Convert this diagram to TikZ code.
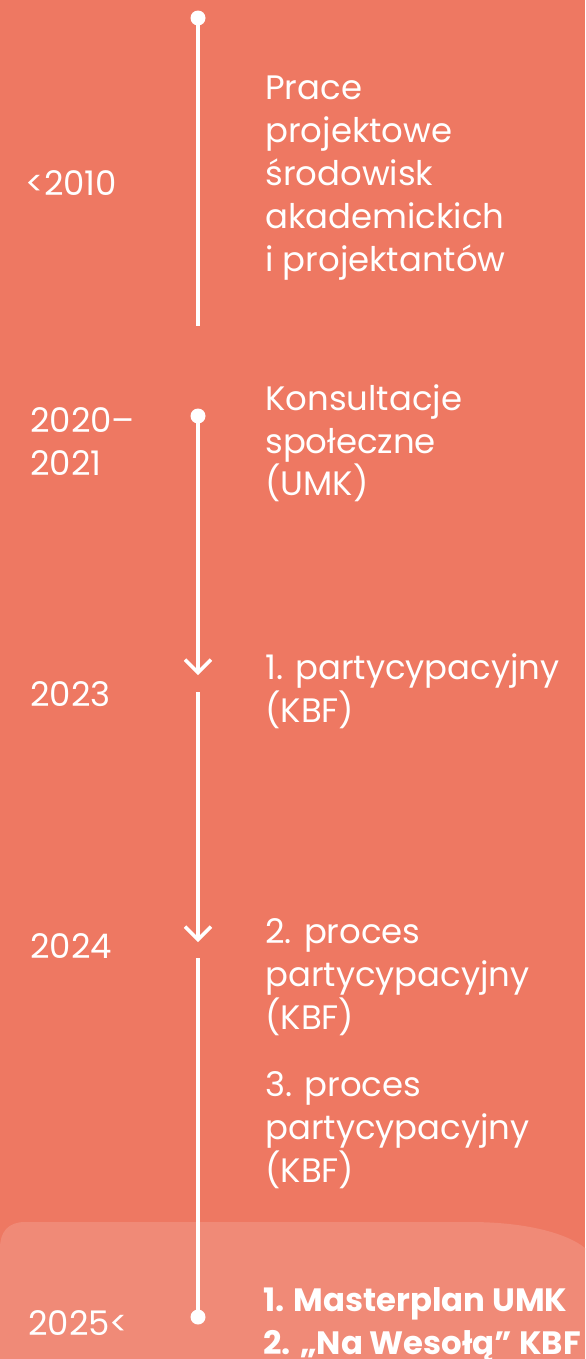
\documentclass[tikz,border=0pt]{standalone}
\usepackage{fontspec}
\setmainfont{Poppins}
\usetikzlibrary{arrows.meta}
\definecolor{bgsalmon}{HTML}{EE7862}
\definecolor{panelsalmon}{HTML}{F08A77}

\tikzset{
  year/.style={anchor=west, text=white, inner sep=0pt, align=left,
    font=\fontsize{19.3}{24.4}\selectfont},
  stage/.style={anchor=north west, text=white, inner sep=0pt, align=left,
    font=\fontsize{19.3}{24.4}\selectfont},
  result/.style={stage, font=\fontsize{18.4}{24.4}\selectfont\bfseries},
  dot/.style={circle, fill=white, minimum size=0.3cm, inner sep=0pt},
  tl/.style={white, line width=2pt},
  tlarrow/.style={tl, -{Straight Barb[length=0.26cm, width=0.52cm, line width=2pt]}},
}

\begin{document}
\begin{tikzpicture}[x=0.02cm, y=-0.02cm]
      \useasboundingbox (0,0) rectangle (585,1359);
      \fill[bgsalmon] (0,0) rectangle (585,1359);
      % lower panel
      \fill[panelsalmon] (0,1359) -- (0,1248) .. controls (0,1232) and (8,1222) .. (25,1222)
        -- (470,1222) .. controls (528,1222) and (568,1234) .. (585,1248) -- (585,1359) -- cycle;

      % timeline
      \node[dot] (d1) at (198,18) {};
      \coordinate (e1) at (198,326);
      \node[dot] (d2) at (198,416) {};
      \coordinate (a1) at (198,675);
      \coordinate (s2) at (198,692);
      \coordinate (a2) at (198,942);
      \coordinate (s3) at (198,958);
      \node[dot] (d3) at (198,1317) {};
      \draw[tl] (d1.center) -- (e1);
      \draw[tlarrow] (d2.center) -- (a1);
      \draw[tlarrow] (s2) -- (a2);
      \draw[tl] (s3) -- (d3.center);

      % years
      \node[year] (y2010) at (25,183) {<2010};
      \node[year, anchor=north west] (y2020) at (30,407) {2020–\\2021};
      \node[year] (y2023) at (30,694) {2023};
      \node[year] (y2024) at (30,946) {2024};
      \node[year] (y2025) at (28,1323) {2025<};

      % stages
      \node[stage] (p1) at (265,76) {Prace\\projektowe\\środowisk\\akademickich\\i projektantów};
      \node[stage] (p2) at (265,384) {Konsultacje\\społeczne\\(UMK)};
      \node[stage] (p3) at (265,653) {1. partycypacyjny\\(KBF)};
      \node[stage] (p4) at (265,918) {2. proces\\partycypacyjny\\(KBF)};
      \node[stage] (p5) at (265,1071) {3. proces\\partycypacyjny\\(KBF)};
      \node[result] (p6) at (263,1287) {1. Masterplan UMK\\2. „Na Wesołą” KBF};
\end{tikzpicture}
\end{document}
